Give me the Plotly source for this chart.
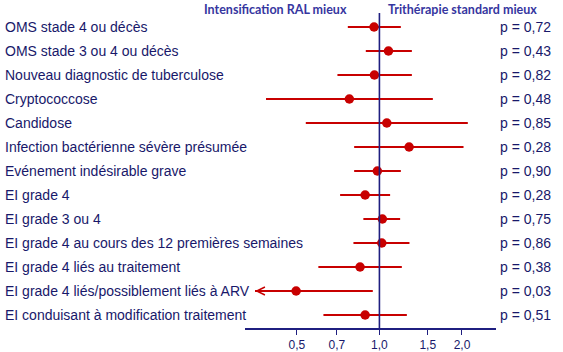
import math
import plotly.graph_objects as go

labels = [
    "OMS stade 4 ou décès",
    "OMS stade 3 ou 4 ou décès",
    "Nouveau diagnostic de tuberculose",
    "Cryptococcose",
    "Candidose",
    "Infection bactérienne sévère présumée",
    "Evénement indésirable grave",
    "EI grade 4",
    "EI grade 3 ou 4",
    "EI grade 4 au cours des 12 premières semaines",
    "EI grade 4 liés au traitement",
    "EI grade 4 liés/possiblement liés à ARV",
    "EI conduisant à modification traitement",
]
hr = [0.956, 1.079, 0.959, 0.777, 1.064, 1.283, 0.983, 0.887, 1.025, 1.020, 0.850, 0.497, 0.887]
ci_low = [0.767, 0.892, 0.703, 0.386, 0.539, 0.809, 0.809, 0.719, 0.874, 0.804, 0.599, 0.352, 0.625]
ci_high = [1.197, 1.313, 1.313, 1.566, 2.10, 2.026, 1.197, 1.094, 1.19, 1.287, 1.207, 0.946, 1.259]
truncated = [False] * 11 + [True, False]
pvals = ["p = 0,72", "p = 0,43", "p = 0,82", "p = 0,48", "p = 0,85", "p = 0,28", "p = 0,90",
         "p = 0,28", "p = 0,75", "p = 0,86", "p = 0,38", "p = 0,03", "p = 0,51"]
tick_vals = [0.5, 0.7, 1.0, 1.5, 2.0]
tick_text = ["0,5", "0,7", "1,0", "1,5", "2,0"]
header_left = "Intensification RAL mieux"
header_right = "Trithérapie standard mieux"

NAVY = "#18186a"
RED = "#c80000"
ypos = [-i for i in range(len(labels))]

lx, ly = [], []
for lo, hi, y, tr in zip(ci_low, ci_high, ypos, truncated):
    lx += [lo, hi, None]
    ly += [y, y, None]

fig = go.Figure()
fig.add_trace(go.Scatter(x=lx, y=ly, mode="lines", line=dict(color=RED, width=1.8),
                         hoverinfo="skip", showlegend=False))
fig.add_trace(go.Scatter(x=hr, y=ypos, mode="markers",
                         marker=dict(color=RED, size=9.5), showlegend=False))

fig.add_shape(type="line", xref="x", yref="paper", x0=1, x1=1, y0=0, y1=1,
              line=dict(color="#1f1f80", width=1.6))

ann = []
for lab, p, y in zip(labels, pvals, ypos):
    ann.append(dict(text=lab, xref="paper", yref="y", x=-0.966, y=y, xanchor="left",
                    yanchor="middle", showarrow=False,
                    font=dict(family="Liberation Sans, Arial", size=14, color=NAVY)))
    ann.append(dict(text=p, xref="paper", yref="y", x=1.008, y=y, xanchor="left",
                    yanchor="middle", showarrow=False,
                    font=dict(family="Liberation Sans, Arial", size=14, color=NAVY)))
for lo, hi, y, tr in zip(ci_low, ci_high, ypos, truncated):
    if tr:
        ann.append(dict(x=math.log10(lo), y=y, ax=math.log10(lo) + 0.06, ay=y,
                        xref="x", yref="y", axref="x", ayref="y", text="",
                        showarrow=True, arrowhead=5, arrowsize=1, arrowwidth=1.6,
                        arrowcolor=RED))
ann.append(dict(text="<b>" + header_left + "</b>", xref="paper", yref="paper",
                x=0.414, y=1.01, xanchor="right", yanchor="middle", showarrow=False,
                font=dict(family="Lato", size=12.5, color="#3636a0")))
ann.append(dict(text="<b>" + header_right + "</b>", xref="paper", yref="paper",
                x=0.562, y=1.01, xanchor="left", yanchor="middle", showarrow=False,
                font=dict(family="Lato", size=12.5, color="#3636a0")))

fig.update_layout(
    width=563, height=352,
    margin=dict(l=245, r=67, t=13, b=24, pad=0, autoexpand=False),
    paper_bgcolor="white", plot_bgcolor="white",
    annotations=ann,
    xaxis=dict(type="log", range=[-0.490, 0.425], tickvals=tick_vals, ticktext=tick_text,
               showline=True, linecolor="#1f1f80", linewidth=1.5, ticks="outside",
               ticklen=5, tickcolor="#1f1f80", showgrid=False, zeroline=False,
               automargin=False,
               tickfont=dict(family="Liberation Sans, Arial", size=12, color=NAVY)),
    yaxis=dict(range=[-12.542, 0.583], showgrid=False, zeroline=False, automargin=False,
               showticklabels=False, showline=False),
)
fig.write_html("out.html")
